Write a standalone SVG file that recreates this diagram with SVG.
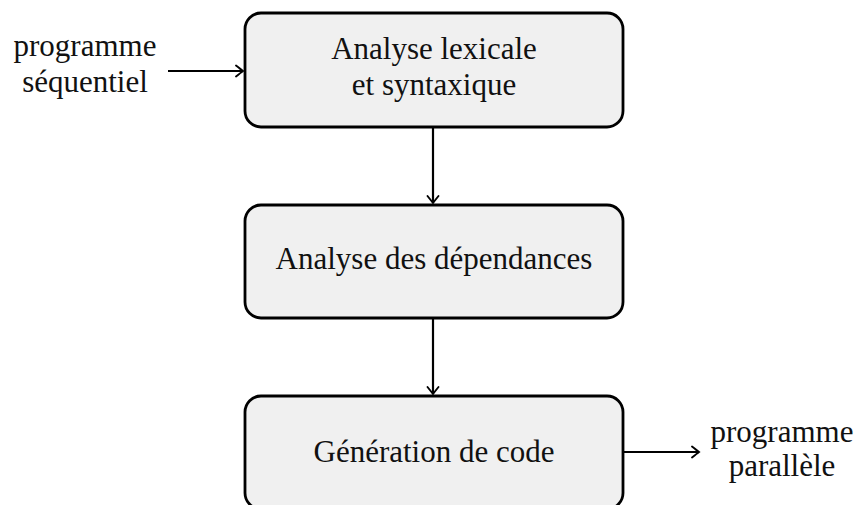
<svg xmlns="http://www.w3.org/2000/svg" width="856" height="505" viewBox="0 0 856 505">
<style>
.box{fill:#f0f0f0;stroke:#000;stroke-width:2.8}
.t{font-family:"Liberation Serif","Times New Roman",serif;font-size:31px;fill:#111;text-anchor:middle}
.c{stroke:#000;stroke-width:2.2;fill:none}
</style>
<defs>
<marker id="ah" markerUnits="userSpaceOnUse" markerWidth="14" markerHeight="14" viewBox="-8 -7 10 14" refX="0" refY="0" orient="auto">
<path d="M-7,-5.5 Q-2,-1.5 0,0 Q-2,1.5 -7,5.5" fill="none" stroke="#000" stroke-width="1.9" stroke-linecap="round"/>
</marker>
</defs>
<rect width="856" height="505" fill="#fff"/>
<g id="n1">
<rect class="box" x="245" y="13" width="378" height="114" rx="16"/>
<text class="t" x="434" y="59">Analyse lexicale</text>
<text class="t" x="434" y="95">et syntaxique</text>
</g>
<g id="n2">
<rect class="box" x="245" y="205" width="378" height="113" rx="16"/>
<text class="t" x="434" y="269">Analyse des dépendances</text>
</g>
<g id="n3">
<rect class="box" x="245" y="396" width="378" height="113" rx="16"/>
<text class="t" x="434" y="462">Génération de code</text>
</g>
<g id="in">
<text class="t" x="85" y="56">programme</text>
<text class="t" x="85" y="92">séquentiel</text>
</g>
<g id="out">
<text class="t" x="782" y="442">programme</text>
<text class="t" x="782" y="476">parallèle</text>
</g>
<g id="connectors">
<line class="c" x1="168" y1="71" x2="243" y2="71" marker-end="url(#ah)"/>
<line class="c" x1="433" y1="128" x2="433" y2="203" marker-end="url(#ah)"/>
<line class="c" x1="433" y1="319" x2="433" y2="394" marker-end="url(#ah)"/>
<line class="c" x1="624" y1="452" x2="699" y2="452" marker-end="url(#ah)"/>
</g>
</svg>
